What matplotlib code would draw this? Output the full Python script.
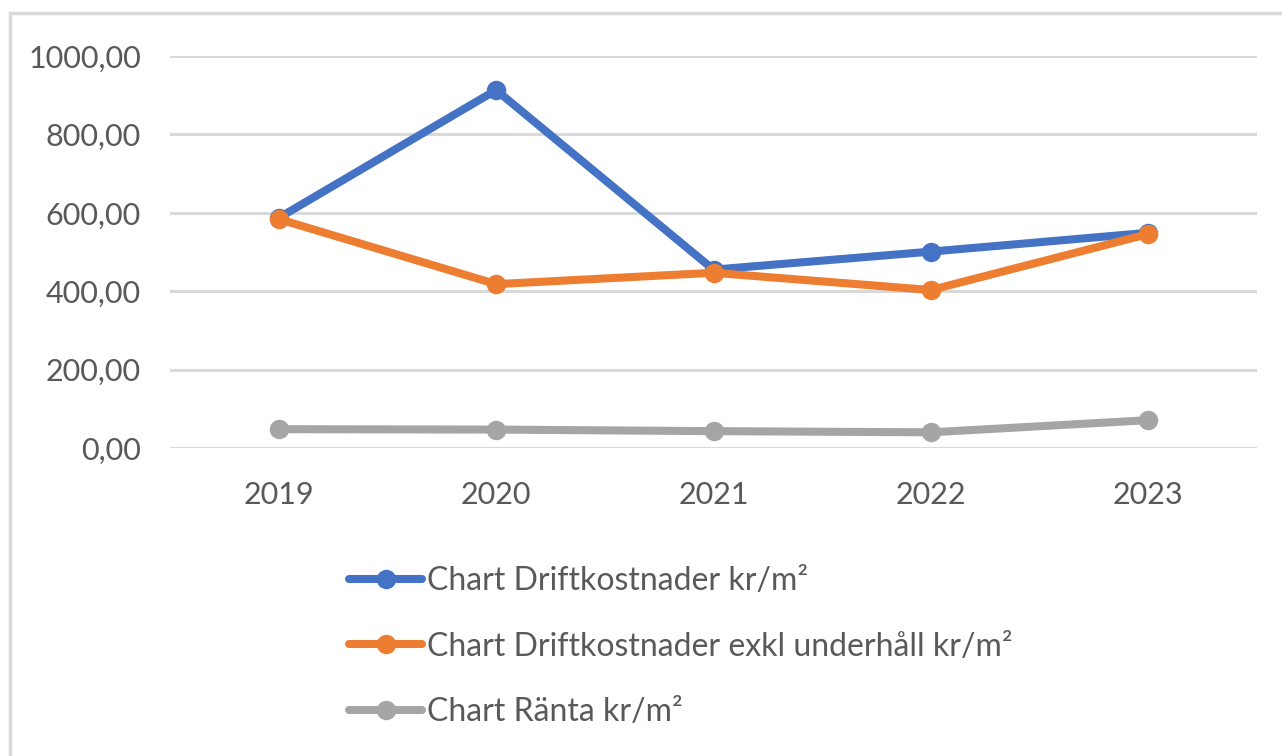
import matplotlib.pyplot as plt
from matplotlib.patches import Rectangle
from matplotlib.ticker import FuncFormatter

years = ["2019", "2020", "2021", "2022", "2023"]
drift = [587, 913, 455, 501, 549]
drift_exkl = [584, 418, 447, 403, 546]
ranta = [48, 47, 43, 40, 71]

labels = [
    "Chart Driftkostnader kr/m²",
    "Chart Driftkostnader exkl underhåll kr/m²",
    "Chart Ränta kr/m²",
]
colors = ["#4472C4", "#ED7D31", "#A5A5A5"]

plt.rcParams["font.family"] = ["Lato", "DejaVu Sans"]

fig = plt.figure(figsize=(12.82, 7.56), dpi=100)
fig.patches.append(Rectangle((10 / 1282, -0.01), 1.0, 1 - 13 / 756 + 0.01,
                             transform=fig.transFigure, fill=False,
                             edgecolor="#D9D9D9", linewidth=2.5))

ax = fig.add_axes([170 / 1282, 1 - 448 / 756, 1087 / 1282, 392 / 756])
x = range(len(years))
for vals, lab, col in zip([drift, drift_exkl, ranta], labels, colors):
    ax.plot(x, vals, color=col, linewidth=5.8, marker="o", markersize=13,
            label=lab, solid_capstyle="round", solid_joinstyle="round")

ax.set_xlim(-0.5, len(years) - 0.5)
ax.set_ylim(0, 1000)
ax.set_yticks(range(0, 1001, 200))
ax.yaxis.set_major_formatter(FuncFormatter(lambda v, p: f"{v:.2f}".replace(".", ",")))
ax.set_xticks(list(x))
ax.set_xticklabels(years)
ax.grid(axis="y", color="#D9D9D9", linewidth=2.2)
ax.set_axisbelow(True)
for s in ax.spines.values():
    s.set_visible(False)
ax.tick_params(length=0, labelsize=22, colors="#595959")
ax.tick_params(axis="y", pad=21)
ax.tick_params(axis="x", pad=24)

leg = fig.legend(loc="upper left", bbox_to_anchor=(336 / 1282, 1 - 553 / 756),
                 frameon=False, fontsize=23, handlelength=2.3, handletextpad=0.15,
                 labelspacing=1.12, borderaxespad=0)
for t in leg.get_texts():
    t.set_color("#595959")

fig.savefig("out.png", dpi=100)
